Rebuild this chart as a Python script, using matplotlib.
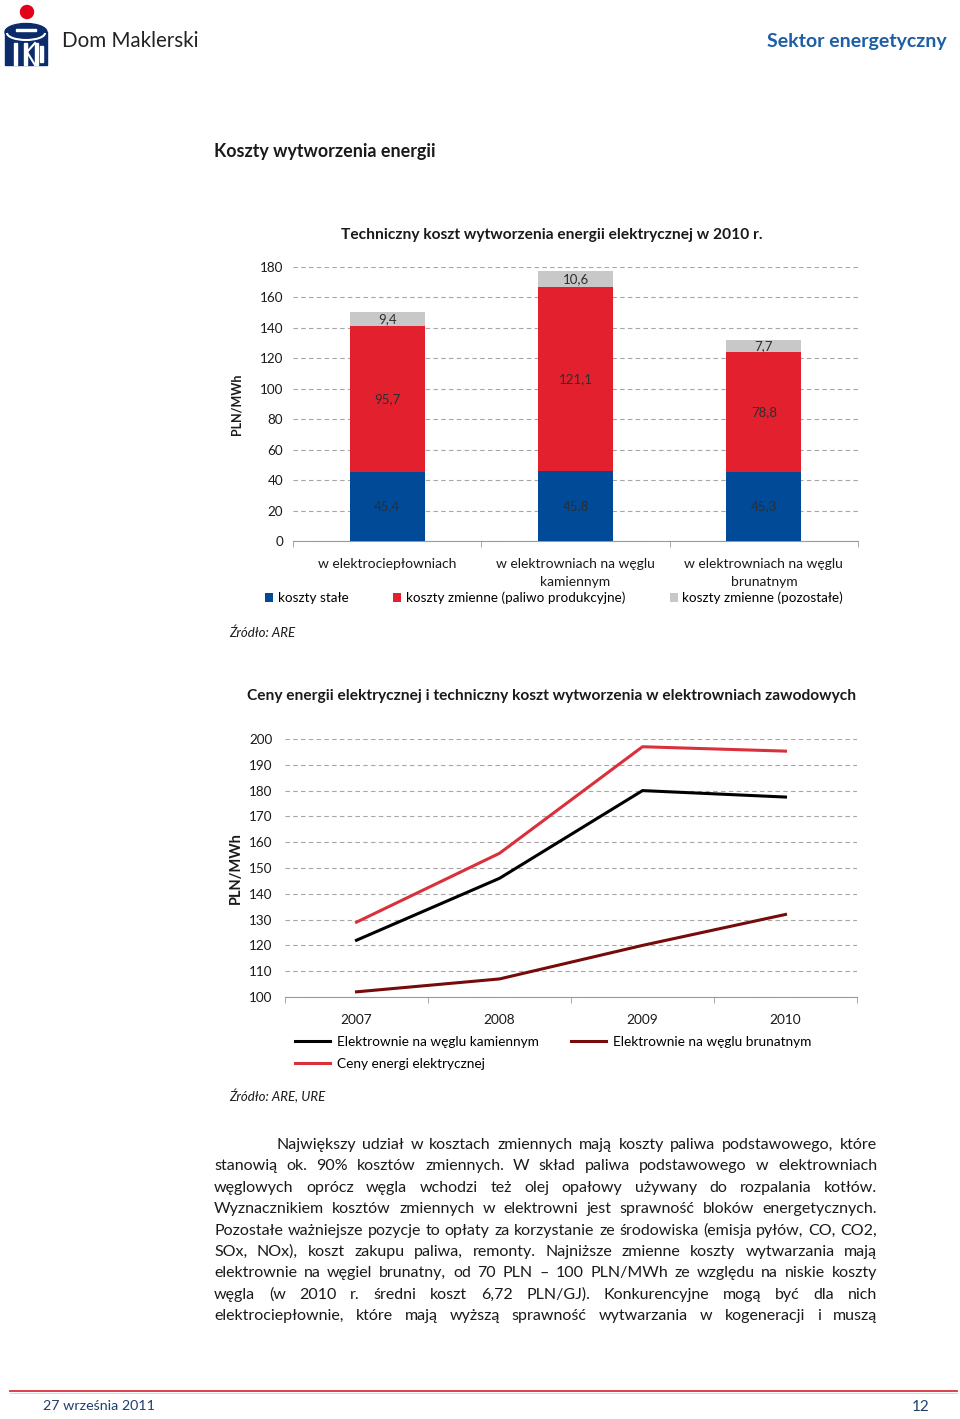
import matplotlib
matplotlib.use('Agg')
import matplotlib.pyplot as plt
import numpy as np
from matplotlib.patches import Circle, Rectangle, Ellipse, Arc
from matplotlib.lines import Line2D

plt.rcParams['font.family'] = ['Lato', 'DejaVu Sans']

# ---------------- data ----------------
cats1 = ['w elektrociepłowniach', 'w elektrowniach na węglu\nkamiennym',
         'w elektrowniach na węglu\nbrunatnym']
fixed_costs = [45.4, 45.8, 45.3]
fuel_costs = [95.7, 121.1, 78.8]
other_costs = [9.4, 10.6, 7.7]
series1_names = ['koszty stałe', 'koszty zmienne (paliwo produkcyjne)',
                 'koszty zmienne (pozostałe)']

years = ['2007', '2008', '2009', '2010']
hard_coal = [122, 146, 180, 177.5]
lignite = [102, 107, 120, 132]
prices = [129, 155.7, 197, 195.3]
series2_names = ['Elektrownie na węglu kamiennym', 'Elektrownie na węglu brunatnym',
                 'Ceny energi elektrycznej']

body_lines = [
    "Największy udział w kosztach zmiennych mają koszty paliwa podstawowego, które",
    "stanowią ok. 90% kosztów zmiennych. W skład paliwa podstawowego w elektrowniach",
    "węglowych oprócz węgla wchodzi też olej opałowy używany do rozpalania kotłów.",
    "Wyznacznikiem kosztów zmiennych w elektrowni jest sprawność bloków energetycznych.",
    "Pozostałe ważniejsze pozycje to opłaty za korzystanie ze środowiska (emisja pyłów, CO, CO2,",
    "SOx, NOx), koszt zakupu paliwa, remonty. Najniższe zmienne koszty wytwarzania mają",
    "elektrownie na węgiel brunatny, od 70 PLN – 100 PLN/MWh ze względu na niskie koszty",
    "węgla (w 2010 r. średni koszt 6,72 PLN/GJ). Konkurencyjne mogą być dla nich",
    "elektrociepłownie, które mają wyższą sprawność wytwarzania w kogeneracji i muszą",
]

BLUE = '#004a97'
RED = '#e3202e'
GRAY = '#c8c8c8'
C_BLACK = '#000000'
C_MAROON = '#760b0b'
C_RED = '#d9303b'
TXT = '#1a1a1a'
GRID = '#a6a6a6'

W, H = 960, 1419
fig = plt.figure(figsize=(W / 100, H / 100), dpi=100)
fig.patch.set_facecolor('white')

# overlay axes in pixel coordinates
ov = fig.add_axes([0, 0, 1, 1])
ov.set_xlim(0, W)
ov.set_ylim(H, 0)
ov.axis('off')

# ---------------- header ----------------
LOGO_BLUE = '#0c2b6b'
ov.add_patch(Circle((27, 12), 6.5, color='#e2001a'))
ov.add_patch(Rectangle((5, 32), 42, 33, color=LOGO_BLUE))
ov.add_patch(Ellipse((26, 32), 42, 17, color=LOGO_BLUE))
ov.add_patch(Rectangle((16, 28.5), 20, 2.5, color='white'))
ov.add_patch(Arc((26, 33), 38, 14, theta1=0, theta2=180, color='white', lw=1.5))
for xx in (15.5, 25.5, 36.5):
    ov.add_patch(Rectangle((xx - 1.2, 43), 2.4, 22, color='white'))
ov.plot([27, 35], [52, 43], color='white', lw=1.5)
ov.plot([27, 35], [52, 65], color='white', lw=1.5)
ov.add_patch(Rectangle((40, 46), 3, 16, color='white'))
ov.text(62, 41, 'Dom Maklerski', fontsize=14.8, color='#222222', va='center', ha='left')
ov.text(947, 41, 'Sektor energetyczny', fontsize=14, color='#1d5ea6', va='center',
        ha='right', fontweight='bold')

ov.text(214, 152, 'Koszty wytworzenia energii', fontsize=12.9, color=TXT, va='center',
        ha='left', fontweight='bold')

# ---------------- chart 1 ----------------
ov.text(552, 235, 'Techniczny koszt wytworzenia energii elektrycznej w 2010 r.',
        fontsize=11.2, fontweight='bold', ha='center', va='center', color=TXT)

ax1 = fig.add_axes([293 / W, 1 - 541 / H, 565 / W, 274 / H])
x1 = np.arange(len(cats1)) + 0.5
bottom3 = [a + b for a, b in zip(fixed_costs, fuel_costs)]
b1 = ax1.bar(x1, fixed_costs, 0.4, color=BLUE, zorder=3, label=series1_names[0])
b2 = ax1.bar(x1, fuel_costs, 0.4, bottom=fixed_costs, color=RED, zorder=3,
             label=series1_names[1])
b3 = ax1.bar(x1, other_costs, 0.4, bottom=bottom3, color=GRAY, zorder=3,
             label=series1_names[2])


def fmt(v):
    return f'{v:.1f}'.replace('.', ',')


for cont, vals in ((b1, fixed_costs), (b2, fuel_costs), (b3, other_costs)):
    ax1.bar_label(cont, labels=[fmt(v) for v in vals], label_type='center',
                  fontsize=9.5, color='#2e2e2e')

ax1.set_xlim(0, 3)
ax1.set_ylim(0, 180)
ax1.set_yticks(range(0, 181, 20))
ax1.set_xticks(x1)
ax1.set_xticklabels(cats1, fontsize=10, linespacing=1.6, color=TXT)
ax1.set_xticks([0, 1, 2, 3], minor=True)
ax1.tick_params(axis='x', which='major', length=0, pad=12)
ax1.tick_params(axis='x', which='minor', length=4, color='#9a9a9a')
ax1.tick_params(axis='y', length=0, pad=7, labelsize=9.7, labelcolor=TXT)
ax1.yaxis.grid(True, linestyle=(0, (4, 3)), color=GRID, lw=0.8)
ax1.set_axisbelow(True)
for s in ('top', 'right', 'left'):
    ax1.spines[s].set_visible(False)
ax1.spines['bottom'].set_color('#9a9a9a')
ax1.set_ylabel('PLN/MWh', fontsize=9, fontweight='bold', color=TXT)
ax1.yaxis.set_label_coords((243 - 293) / 565, 0.5)

fig.legend(handles=[b1, b2, b3], labels=series1_names, loc='center left',
           bbox_to_anchor=(265 / W, 1 - 598 / H), ncol=3, frameon=False,
           fontsize=9.7, handlelength=0.6, handleheight=0.6, handletextpad=0.35,
           columnspacing=3.3, borderpad=0, borderaxespad=0)

ov.text(229, 633, 'Źródło: ARE', fontsize=9.5, fontstyle='italic', color=TXT,
        ha='left', va='center')

# ---------------- chart 2 ----------------
ov.text(552, 696, 'Ceny energii elektrycznej i techniczny koszt wytworzenia w elektrowniach zawodowych',
        fontsize=11.2, fontweight='bold', ha='center', va='center', color=TXT)

ax2 = fig.add_axes([285 / W, 1 - 997 / H, 572 / W, 258 / H])
x2 = np.arange(len(years)) + 0.5
l_kam, = ax2.plot(x2, hard_coal, color=C_BLACK, lw=2.2, label=series2_names[0], zorder=3)
l_brun, = ax2.plot(x2, lignite, color=C_MAROON, lw=2.2, label=series2_names[1], zorder=3)
l_ceny, = ax2.plot(x2, prices, color=C_RED, lw=2.2, label=series2_names[2], zorder=3)
ax2.set_xlim(0, 4)
ax2.set_ylim(100, 200)
ax2.set_yticks(range(100, 201, 10))
ax2.set_xticks(x2)
ax2.set_xticklabels(years, fontsize=9.8, color=TXT)
ax2.set_xticks([0, 1, 2, 3, 4], minor=True)
ax2.tick_params(axis='x', which='major', length=0, pad=12.5)
ax2.tick_params(axis='x', which='minor', length=4, color='#9a9a9a')
ax2.tick_params(axis='y', length=0, pad=9, labelsize=9.7, labelcolor=TXT)
ax2.yaxis.grid(True, linestyle=(0, (4, 3)), color=GRID, lw=0.8)
ax2.set_axisbelow(True)
for s in ('top', 'right', 'left'):
    ax2.spines[s].set_visible(False)
ax2.spines['bottom'].set_color('#9a9a9a')
ax2.set_ylabel('PLN/MWh', fontsize=10.5, fontweight='bold', color=TXT)
ax2.yaxis.set_label_coords((243 - 285) / 572, 0.5)

fig.legend(handles=[l_kam, l_ceny, l_brun],
           labels=[series2_names[0], series2_names[2], series2_names[1]],
           loc='upper left', bbox_to_anchor=(295 / W, 1 - 1036 / H), ncol=2,
           frameon=False, fontsize=9.8, handlelength=2.6, handletextpad=0.45,
           columnspacing=2.4, labelspacing=0.7, borderpad=0, borderaxespad=0)

ov.text(229, 1096, 'Źródło: ARE, URE', fontsize=9.5, fontstyle='italic', color=TXT,
        ha='left', va='center')

# ---------------- body text (justified) ----------------
renderer = fig.canvas.get_renderer()
X0, X1 = 214, 877
INDENT = 276


def measure(words, fs):
    out = []
    for w in words:
        t = ov.text(0, 0, w, fontsize=fs)
        out.append(t.get_window_extent(renderer).width)
        t.remove()
    return out


fs_body = 12.0
while fs_body > 8:
    ok = True
    for i, line in enumerate(body_lines):
        words = line.split(' ')
        start = INDENT if i == 0 else X0
        need = sum(measure(words, fs_body)) + (len(words) - 1) * 0.22 * fs_body * 100 / 72
        if need > X1 - start:
            ok = False
            break
    if ok:
        break
    fs_body -= 0.25

for i, line in enumerate(body_lines):
    words = line.split(' ')
    start = INDENT if i == 0 else X0
    y = 1145 + i * 21.4
    ws = measure(words, fs_body)
    gap = (X1 - start - sum(ws)) / (len(words) - 1)
    xx = start
    for w, wd in zip(words, ws):
        ov.text(xx, y, w, fontsize=fs_body, color=TXT, ha='left', va='center')
        xx += wd + gap

# ---------------- footer ----------------
ov.plot([10, 957], [1391, 1391], color='#d9303b', lw=1.3)
ov.plot([10, 957], [1393, 1393], color='#dddddd', lw=0.8)
ov.text(43, 1406, '27 września 2011', fontsize=10.3, color='#1f3f6e', ha='left', va='center')
ov.text(930, 1407, '12', fontsize=11, color='#1f3f6e', ha='right', va='center')

fig.savefig('out.png', dpi=100)
